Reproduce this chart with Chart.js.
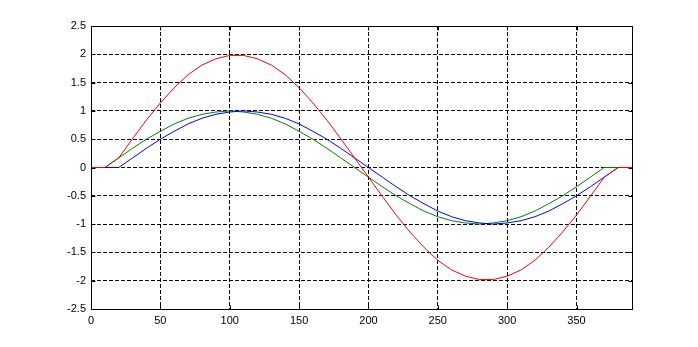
<!DOCTYPE html>
<html>
<head>
<meta charset="utf-8">
<script src="https://cdn.jsdelivr.net/npm/chart.js@4/dist/chart.umd.min.js"></script>
<style>
  html, body { margin: 0; padding: 0; background: #fff; }
  canvas { display: block; }
</style>
</head>
<body>
<canvas id="myChart" width="698" height="347"></canvas>
<script>
  // values, every 10 units along x
  var xValues = [0, 10, 20, 30, 40, 50, 60, 70, 80, 90, 100, 110, 120, 130, 140, 150, 160, 170, 180, 190,
                 200, 210, 220, 230, 240, 250, 260, 270, 280, 290, 300, 310, 320, 330, 340, 350, 360, 370, 380, 390]
  var greenValues = [0, 0, 0.17, 0.34, 0.5, 0.64, 0.77, 0.87, 0.94, 0.98, 1.0, 0.98, 0.94, 0.87, 0.77, 0.64, 0.5, 0.34, 0.17, 0,
                     -0.17, -0.34, -0.5, -0.64, -0.77, -0.87, -0.94, -0.98, -1.0, -0.98, -0.94, -0.87, -0.77, -0.64, -0.5, -0.34, -0.17, 0, 0, 0]
  var blueValues = [0, 0, 0, 0.17, 0.34, 0.5, 0.64, 0.77, 0.87, 0.94, 0.98, 1.0, 0.98, 0.94, 0.87, 0.77, 0.64, 0.5, 0.34, 0.17,
                    0, -0.17, -0.34, -0.5, -0.64, -0.77, -0.87, -0.94, -0.98, -1.0, -0.98, -0.94, -0.87, -0.77, -0.64, -0.5, -0.34, -0.17, 0, 0]
  var redValues = [0, 0, 0.17, 0.51, 0.84, 1.14, 1.41, 1.64, 1.81, 1.92, 1.98, 1.98, 1.92, 1.81, 1.64, 1.41, 1.14, 0.84, 0.51, 0.17,
                   -0.17, -0.51, -0.84, -1.14, -1.41, -1.64, -1.81, -1.92, -1.98, -1.98, -1.92, -1.81, -1.64, -1.41, -1.14, -0.84, -0.51, -0.17, 0, 0]

  var xTickLabels = ['0', '50', '100', '150', '200', '250', '300', '350']
  var yTickLabels = ['-2.5', '-2', '-1.5', '-1', '-0.5', '0', '0.5', '1', '1.5', '2', '2.5']

  function points(ys) {
    return xValues.map(function (x, i) { return { x: x, y: ys[i] } })
  }

  function gridColor(min, max) {
    return function (c) {
      var v = c.tick ? c.tick.value : null
      return (v === min || v === max) ? 'rgba(0,0,0,0)' : '#000000'
    }
  }

  // solid black box round the plot area, with short ticks pointing inwards
  var boxPlugin = {
    id: 'box',
    afterDraw: function (chart) {
      var a = chart.chartArea, ctx = chart.ctx
      var l = Math.round(a.left) + 0.5, r = Math.round(a.right) + 0.5
      var t = Math.round(a.top) + 0.5, b = Math.round(a.bottom) + 0.5
      ctx.save()
      ctx.strokeStyle = '#000000'
      ctx.lineWidth = 1
      ctx.strokeRect(l, t, r - l, b - t)
      ctx.beginPath()
      chart.scales.y.ticks.forEach(function (tk) {
        var py = Math.round(chart.scales.y.getPixelForValue(tk.value)) + 0.5
        ctx.moveTo(l, py); ctx.lineTo(l + 4, py)
        ctx.moveTo(r, py); ctx.lineTo(r - 4, py)
      })
      chart.scales.x.ticks.forEach(function (tk) {
        var px = Math.round(chart.scales.x.getPixelForValue(tk.value)) + 0.5
        ctx.moveTo(px, b); ctx.lineTo(px, b - 4)
        ctx.moveTo(px, t); ctx.lineTo(px, t + 4)
      })
      ctx.stroke()
      ctx.restore()
    }
  }

  var font = { family: "'Liberation Sans', Arial, sans-serif", size: 11 }

  var ctx = document.getElementById('myChart')
  var config = {
    type: 'line',
    data: {
      datasets: [{
        label: 'red',
        data: points(redValues),
        borderColor: '#ff0000',
        order: 0
      }, {
        label: 'blue',
        data: points(blueValues),
        borderColor: '#0000ff',
        order: 1
      }, {
        label: 'green',
        data: points(greenValues),
        borderColor: '#008000',
        order: 2
      }]
    },
    options: {
      responsive: false,
      animation: false,
      datasets: {
        line: { borderWidth: 1, pointRadius: 0, tension: 0, fill: false }
      },
      layout: { padding: { top: 26, right: 66, bottom: 0, left: 0 } },
      scales: {
        x: {
          type: 'linear',
          min: 0,
          max: 390,
          afterFit: function (s) { s.height = 38 },
          border: { display: false, dash: [4, 2] },
          grid: { color: gridColor(0, 390), lineWidth: 1, drawTicks: false },
          ticks: {
            stepSize: 50,
            includeBounds: false,
            padding: 5,
            color: '#000000',
            font: font,
            maxRotation: 0,
            callback: function (value) {
              var i = value / 50
              return xTickLabels[i] !== undefined ? xTickLabels[i] : ''
            }
          }
        },
        y: {
          type: 'linear',
          min: -2.5,
          max: 2.5,
          afterFit: function (s) { s.width = 91 },
          border: { display: false, dash: [4, 2] },
          grid: { color: gridColor(-2.5, 2.5), lineWidth: 1, drawTicks: false },
          ticks: {
            stepSize: 0.5,
            padding: 5,
            color: '#000000',
            font: font,
            callback: function (value) {
              var i = Math.round((value + 2.5) / 0.5)
              return yTickLabels[i]
            }
          }
        }
      },
      plugins: {
        legend: { display: false },
        tooltip: { enabled: false }
      }
    },
    plugins: [boxPlugin]
  }

  var lineChart = new Chart(ctx, config)
</script>
</body>
</html>
